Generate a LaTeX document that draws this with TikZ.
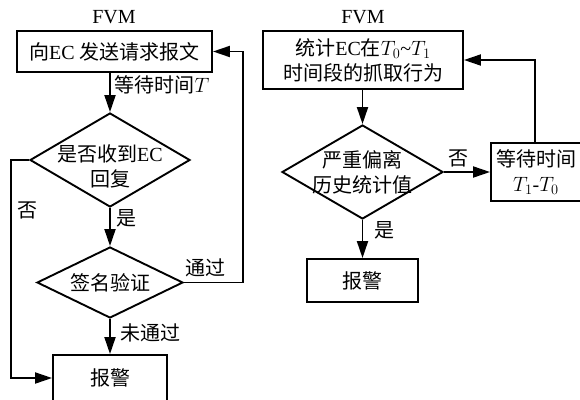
\documentclass[tikz,border=0pt]{standalone}
\usepackage{fontspec}
\setmainfont{Liberation Serif}
\newfontfamily\cjk{Noto Sans CJK SC}
\newcommand{\zh}[1]{{\cjk #1}}
\usetikzlibrary{shapes.geometric,arrows.meta}
\tikzset{
  flowbox/.style={draw,line width=1.9pt,rectangle,inner sep=0pt,align=center},
  decide/.style={draw,line width=1.9pt,diamond,inner sep=0pt},
  flowline/.style={line width=1.9pt},
  flowarrow/.style={flowline,-{Triangle[length=17pt,width=11pt]}},
  every node/.style={font=\fontsize{20}{25}\selectfont}
}
\begin{document}
\begin{tikzpicture}[x=1pt,y=-1pt]
\useasboundingbox (0,0) rectangle (580,399);

% left: request / reply check
\node (fvmL) at (114,17) {FVM};
\node[flowbox,minimum width=195pt,minimum height=41pt] (send) at (114.5,51.5) {\zh{向}EC \zh{发送请求报文}};
\node[decide,minimum width=160pt,minimum height=94pt,
      label={[align=center,yshift=-6pt]center:\zh{是否收到}EC\\\zh{回复}}] (recv) at (110,160) {};
\node[decide,minimum width=146pt,minimum height=71pt,
      label={center:\zh{签名验证}}] (sign) at (110,282.5) {};
\node[flowbox,minimum width=114pt,minimum height=46pt] (alarmL) at (110,378) {\zh{报警}};

\draw[flowarrow] (send.south -| recv) -- (recv.north);
\draw[flowarrow] (recv.south) -- (sign.north);
\draw[flowarrow] (sign.south) -- (alarmL.north);
\draw[flowarrow] (recv.west) -- ++(-18,0) |- (alarmL.west);
\draw[flowarrow] (sign.east) -- ++(59,0) |- (send.east);

\node (waitT) at (162,85) {\zh{等待时间}$T$};
\node (noL) at (27,210) {\zh{否}};
\node (yesL) at (126,218) {\zh{是}};
\node (pass) at (205,268) {\zh{通过}};
\node (fail) at (150,333) {\zh{未通过}};

% right: behaviour statistics
\node (fvmR) at (363,17) {FVM};
\node[flowbox,minimum width=200pt,minimum height=58pt] (stat) at (363,60)
  {\zh{统计}EC\zh{在}$T_0$\textasciitilde$T_1$\\\zh{时间段的抓取行为}};
\node[decide,minimum width=161pt,minimum height=94pt,
      label={[align=center]center:\zh{严重偏离}\\\zh{历史统计值}}] (dev) at (362.5,172) {};
\node[flowbox,minimum width=102pt,minimum height=58pt,
      label={[align=center,xshift=-6pt]center:\zh{等待时间}\\$T_1$-$T_0$}] (wait) at (542,172) {};
\node[flowbox,minimum width=111pt,minimum height=43pt] (alarmR) at (362.5,280.5) {\zh{报警}};

\draw[flowarrow] (stat.south -| dev) -- (dev.north);
\draw[flowarrow] (dev.east) -- (wait.west);
\draw[flowarrow] ([xshift=-7pt]wait.north) |- (stat.east);
\draw[flowarrow] (dev.south) -- (alarmR.north);

\node (noR) at (458,158) {\zh{否}};
\node (yesR) at (384,230) {\zh{是}};
\end{tikzpicture}
\end{document}
